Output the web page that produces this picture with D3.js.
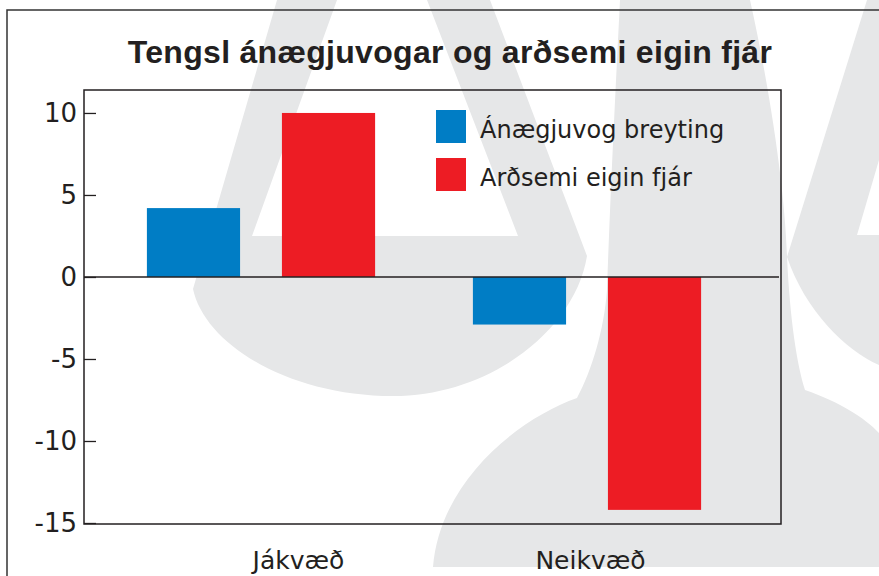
<!DOCTYPE html>
<html>
<head>
<meta charset="utf-8">
<script src="https://cdn.jsdelivr.net/npm/d3@7"></script>
<style>
  body { margin: 0; background: white; }
  svg { display: block; }
</style>
</head>
<body>
<div id="main_div"></div>
<script>
var SVG_WIDTH = 879;
var SVG_HEIGHT = 576;

var TEXT_COLOR = "#231f20";
var WATERMARK_COLOR = "#e6e7e8";

// Data
var categories = ["Jákvæð", "Neikvæð"];
var series = ["Ánægjuvog breyting", "Arðsemi eigin fjár"];
var satisfaction_values = [4.2, -2.9];
var roe_values = [10.0, -14.2];
var y_ticks = [-15, -10, -5, 0, 5, 10];
var series_colors = ["#007dc5", "#ed1c24"];


function drawWatermark(svg) {
  // Grey logo shapes behind the chart
  var g = svg.append("g").attr("fill", WATERMARK_COLOR).attr("fill-rule", "evenodd");

  // left "A" with round bowl
  g.append("path")
    .attr("d", "M277,0 L490,0 L587,256 C575,330 490,396 393,396 C290,396 205,345 193,289 Z " +
               "M337,0 L427,0 L518,236 L252,236 Z");

  // middle figure
  g.append("path")
    .attr("d", "M620,0 L750,0 C770,90 785,190 787,257 C790,320 797,365 805,390 " +
               "C840,402 865,418 879,433 L879,567 L433,567 C440,480 520,418 577,398 " +
               "C592,370 604,330 607,290 C610,200 615,100 620,0 Z");

  // right "A", cut off by the edge
  g.append("path")
    .attr("d", "M867,0 L879,0 L879,160 L857,235 L879,235 L879,365 C845,350 805,310 787,257 Z");
}


function drawChart() {
  var svg = d3.select("#main_div").append("svg")
              .attr("width", SVG_WIDTH)
              .attr("height", SVG_HEIGHT);

  drawWatermark(svg);

  // Outer frame (right and bottom edges run off the picture)
  svg.append("rect")
      .attr("x", 7).attr("y", 10)
      .attr("width", 920).attr("height", 620)
      .attr("fill", "none")
      .attr("stroke", "#333")
      .attr("stroke-width", 1.5);

  // Title
  svg.append("text")
      .attr("x", 450).attr("y", 63)
      .attr("text-anchor", "middle")
      .style("font-family", "'Liberation Sans', Arial, sans-serif")
      .style("font-weight", "bold")
      .style("font-size", "32px")
      .style("letter-spacing", "0.3px")
      .attr("fill", TEXT_COLOR)
      .text("Tengsl ánægjuvogar og arðsemi eigin fjár");

  // Scales
  var plot_left = 84, plot_right = 781;
  var y = d3.scaleLinear().domain([-15, 11.4]).range([523, 90]);

  var x0 = d3.scaleBand().domain(categories).range([98, 750])
              .paddingInner(0.3).paddingOuter(0.15);
  var x1 = d3.scaleBand().domain(series).range([0, x0.bandwidth()])
              .paddingInner(0.31);
  var xLabel = d3.scalePoint().domain(categories).range([298, 590]);

  var color = d3.scaleOrdinal().domain(series).range(series_colors);

  // Table rows built from the arrays
  var rows = categories.map(function(c, i) {
    return {category: c, values: [
      {key: series[0], value: satisfaction_values[i]},
      {key: series[1], value: roe_values[i]}
    ]};
  });

  // Bars
  var groups = svg.append("g").selectAll("g")
                  .data(rows).enter()
                .append("g")
                  .attr("transform", function(d) { return "translate(" + x0(d.category) + ",0)"; });

  groups.selectAll("rect")
          .data(function(d) { return d.values; }).enter()
        .append("rect")
          .attr("x", function(d) { return x1(d.key); })
          .attr("width", x1.bandwidth())
          .attr("y", function(d) { return y(Math.max(0, d.value)); })
          .attr("height", function(d) { return Math.abs(y(d.value) - y(0)); })
          .attr("fill", function(d) { return color(d.key); });

  // Zero line
  svg.append("line")
      .attr("x1", plot_left).attr("x2", plot_right - 2)
      .attr("y1", y(0)).attr("y2", y(0))
      .attr("stroke", TEXT_COLOR)
      .attr("stroke-width", 1.5);

  // Plot box
  svg.append("rect")
      .attr("x", plot_left).attr("y", y.range()[1])
      .attr("width", plot_right - plot_left)
      .attr("height", y.range()[0] - y.range()[1] + 1)
      .attr("fill", "none")
      .attr("stroke", TEXT_COLOR)
      .attr("stroke-width", 1.5);

  // Y axis, ticks pointing inwards, plain hyphen for negatives
  var yAxis = d3.axisLeft(y).tickValues(y_ticks)
                .tickSizeInner(-12).tickSizeOuter(0).tickPadding(7)
                .tickFormat(function(d) { return String(d); });

  var ay = svg.append("g")
              .attr("transform", "translate(" + plot_left + ",0)")
              .call(yAxis);
  ay.select(".domain").remove();
  ay.selectAll(".tick line").attr("stroke", TEXT_COLOR).attr("stroke-width", 1.3);
  ay.selectAll(".tick text")
      .attr("fill", TEXT_COLOR)
      .style("font-family", "'DejaVu Sans', sans-serif")
      .style("font-size", "26px");

  // Category labels
  var ax = svg.append("g")
              .attr("transform", "translate(0,569)")
              .call(d3.axisBottom(xLabel).tickSize(0).tickPadding(0));
  ax.select(".domain").remove();
  ax.selectAll(".tick text")
      .attr("dy", 0)
      .attr("fill", TEXT_COLOR)
      .style("font-family", "'DejaVu Sans', sans-serif")
      .style("font-size", "25px");

  // Legend
  var legend = svg.append("g").selectAll("g")
                  .data(series).enter()
                .append("g")
                  .attr("transform", function(d, i) { return "translate(436," + (110 + i * 48) + ")"; });

  legend.append("rect")
      .attr("width", 30).attr("height", 33)
      .attr("fill", function(d) { return color(d); });

  legend.append("text")
      .attr("x", 44).attr("y", 28)
      .attr("fill", TEXT_COLOR)
      .style("font-family", "'DejaVu Sans', sans-serif")
      .style("font-size", "24px")
      .text(function(d) { return d; });
}

drawChart();
</script>
</body>
</html>
